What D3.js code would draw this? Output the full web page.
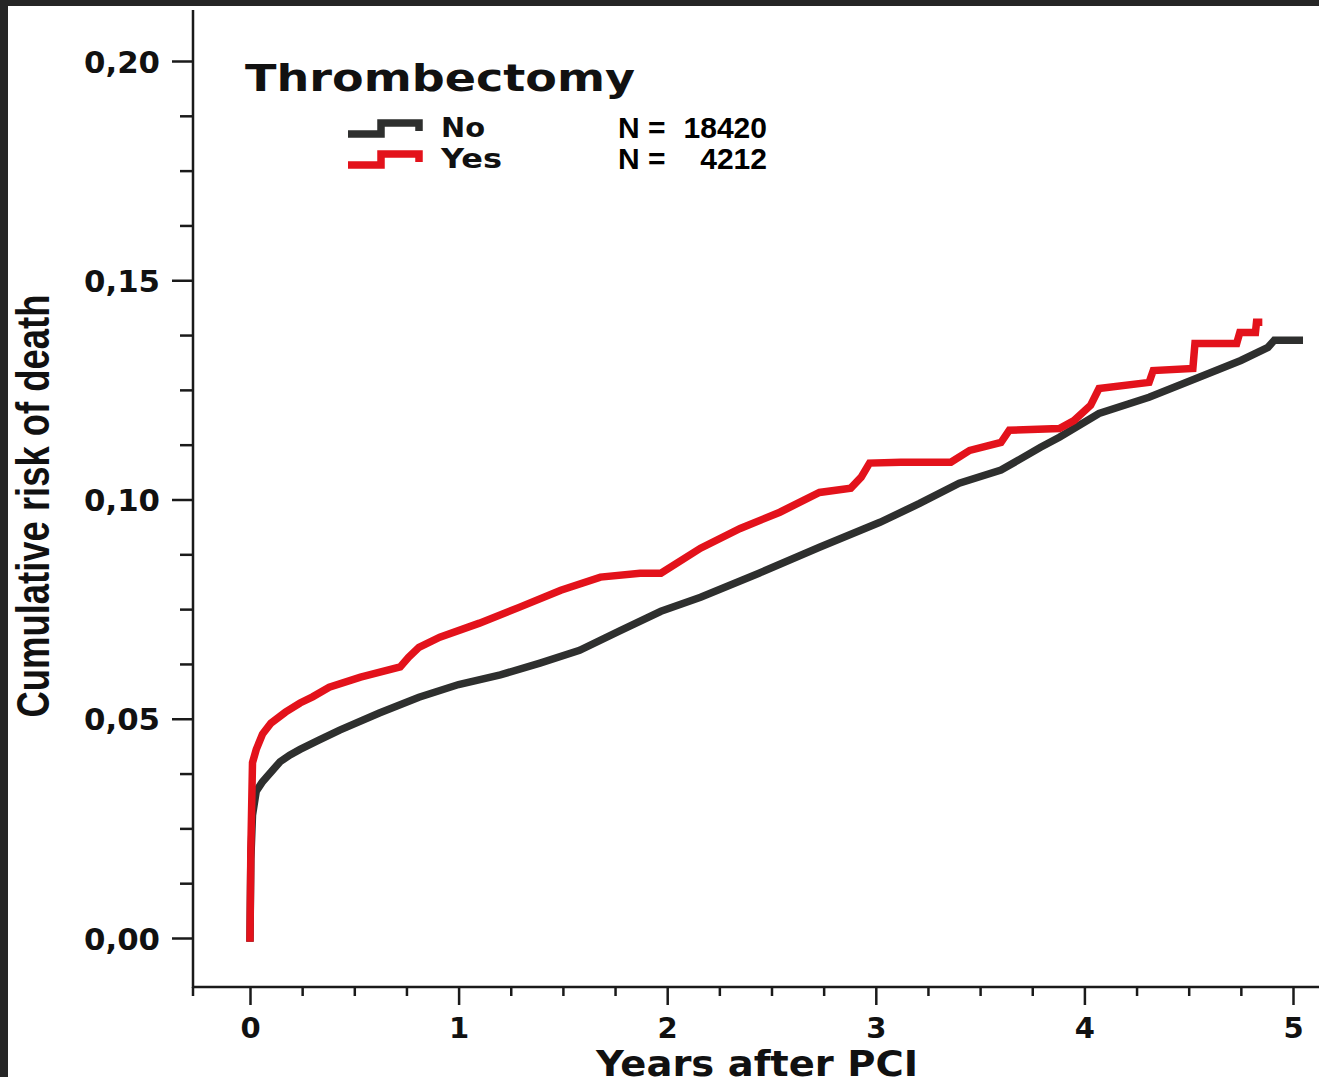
<!DOCTYPE html>
<html>
<head>
<meta charset="utf-8">
<script src="https://cdn.jsdelivr.net/npm/d3@7"></script>
<style>
  html, body { margin: 0; padding: 0; background: #ffffff; }
  svg { display: block; }
</style>
</head>
<body>
<svg id="chart" width="1319" height="1077"></svg>
<script>
// ---- data ----
const yTickLabels = ["0,00", "0,05", "0,10", "0,15", "0,20"];
const yTickValues = [0, 0.05, 0.10, 0.15, 0.20];
const xTickValues = [0, 1, 2, 3, 4, 5];
const xTickLabels = ["0", "1", "2", "3", "4", "5"];

const seriesNames = ["No", "Yes"];
const seriesN = ["18420", "4212"];

const timeNo = [0, 0.004, 0.012, 0.03, 0.058, 0.08, 0.10, 0.144, 0.19, 0.24, 0.33, 0.43, 0.62, 0.81, 1.0, 1.2, 1.39, 1.58, 1.77, 1.97, 2.16, 2.44, 2.73, 3.02, 3.21, 3.40, 3.60, 3.79, 3.88, 4.07, 4.31, 4.55, 4.75, 4.88, 4.91, 5.03];
const riskNo = [0, 0.018, 0.028, 0.0335, 0.0355, 0.0367, 0.0378, 0.0402, 0.0417, 0.0430, 0.0451, 0.0474, 0.0513, 0.0549, 0.0578, 0.0600, 0.0627, 0.0656, 0.0700, 0.0745, 0.0777, 0.0832, 0.0891, 0.0948, 0.0991, 0.1037, 0.1067, 0.1119, 0.1142, 0.1196, 0.1233, 0.1279, 0.1317, 0.1347, 0.1363, 0.1363];

const timeYes = [0, 0.004, 0.012, 0.03, 0.06, 0.10, 0.17, 0.24, 0.30, 0.38, 0.53, 0.72, 0.76, 0.81, 0.91, 1.10, 1.29, 1.49, 1.68, 1.87, 1.97, 2.16, 2.35, 2.54, 2.73, 2.88, 2.93, 2.97, 3.12, 3.36, 3.45, 3.60, 3.64, 3.88, 3.95, 4.03, 4.07, 4.31, 4.33, 4.52, 4.53, 4.73, 4.745, 4.82, 4.825, 4.835];
const riskYes = [0, 0.020, 0.040, 0.0430, 0.0465, 0.0490, 0.0515, 0.0536, 0.0550, 0.0572, 0.0595, 0.0618, 0.0640, 0.0663, 0.0686, 0.0718, 0.0754, 0.0793, 0.0823, 0.0832, 0.0832, 0.0889, 0.0934, 0.0971, 0.1016, 0.1026, 0.1051, 0.1083, 0.1085, 0.1085, 0.1112, 0.1130, 0.1158, 0.1162, 0.1180, 0.1215, 0.1253, 0.1267, 0.1294, 0.1299, 0.1356, 0.1356, 0.1381, 0.1381, 0.1404, 0.1404];

// ---- layout ----
const W = 1319, H = 1077;
const axisX = 193, axisY = 987;
const colNo = "#2e2f2e", colYes = "#e3121b", ink = "#1a1a1a";

const svg = d3.select("#chart");
svg.append("rect").attr("x", 0).attr("y", 0).attr("width", W).attr("height", H).attr("fill", "#262626");
svg.append("rect").attr("x", 8).attr("y", 6).attr("width", W - 8).attr("height", H - 6).attr("fill", "#ffffff");

const x = d3.scaleLinear().domain([0, 5]).range([250, 1293]);
const y = d3.scaleLinear().domain([0, 0.20]).range([938, 61]);

// ---- axes ----
const yMinor = d3.range(0, 0.2001, 0.0125).filter(v => Math.abs(v / 0.05 - Math.round(v / 0.05)) > 1e-6);
const xMinor = d3.range(0, 5.001, 0.25).filter(v => Math.abs(v - Math.round(v)) > 1e-6);

const yAxisMinor = d3.axisLeft(y).tickValues(yMinor).tickSize(13).tickFormat("").tickSizeOuter(0);
const yAxisMajor = d3.axisLeft(y).tickValues(yTickValues).tickSize(21).tickSizeOuter(0)
  .tickFormat((d, i) => yTickLabels[i]).tickPadding(12);

const gyMinor = svg.append("g").attr("transform", `translate(${axisX},0)`).call(yAxisMinor);
const gyMajor = svg.append("g").attr("transform", `translate(${axisX},0)`).call(yAxisMajor);

const xAxisMinor = d3.axisBottom(x).tickValues(xMinor).tickSize(9).tickFormat("").tickSizeOuter(0);
const xAxisMajor = d3.axisBottom(x).tickValues(xTickValues).tickSize(18).tickSizeOuter(0)
  .tickFormat((d, i) => xTickLabels[i]).tickPadding(14);
const gxMinor = svg.append("g").attr("transform", `translate(0,${axisY})`).call(xAxisMinor);
const gxMajor = svg.append("g").attr("transform", `translate(0,${axisY})`).call(xAxisMajor);

[gyMinor, gyMajor, gxMinor, gxMajor].forEach(g => {
  g.select(".domain").remove();
  g.selectAll(".tick line").attr("stroke", ink).attr("stroke-width", 2.5);
});
gyMajor.selectAll(".tick text")
  .attr("fill", "#111").attr("font-family", "DejaVu Sans").attr("font-weight", "bold")
  .attr("font-size", 31).attr("dy", "0.36em")
  .attr("textLength", 76).attr("lengthAdjust", "spacingAndGlyphs");
gxMajor.selectAll(".tick text")
  .attr("fill", "#111").attr("font-family", "DejaVu Sans").attr("font-weight", "bold")
  .attr("font-size", 29).attr("dy", "0.66em");

// axis lines
svg.append("line").attr("x1", axisX).attr("x2", axisX).attr("y1", 10).attr("y2", axisY + 1)
  .attr("stroke", ink).attr("stroke-width", 2.5);
svg.append("line").attr("x1", axisX - 1).attr("x2", W).attr("y1", axisY).attr("y2", axisY)
  .attr("stroke", ink).attr("stroke-width", 2.5);
svg.append("line").attr("x1", axisX).attr("x2", axisX).attr("y1", axisY).attr("y2", axisY + 9)
  .attr("stroke", ink).attr("stroke-width", 2.5);

// axis titles
svg.append("text").attr("x", 757).attr("y", 1076).attr("text-anchor", "middle")
  .attr("font-family", "DejaVu Sans").attr("font-weight", "bold").attr("font-size", 35)
  .attr("textLength", 322).attr("lengthAdjust", "spacingAndGlyphs").attr("fill", "#111")
  .text("Years after PCI");
svg.append("text").attr("transform", "translate(49,506) rotate(-90)").attr("text-anchor", "middle")
  .attr("font-family", "Liberation Sans, Arial, sans-serif").attr("font-weight", "bold").attr("font-size", 46)
  .attr("textLength", 423).attr("lengthAdjust", "spacingAndGlyphs").attr("fill", "#111")
  .text("Cumulative risk of death");

// ---- curves ----
const line = d3.line().x(d => x(d[0])).y(d => y(d[1])).curve(d3.curveLinear);
const dataNo = timeNo.map((t, i) => [t, riskNo[i]]);
const dataYes = timeYes.map((t, i) => [t, riskYes[i]]);

svg.append("path").datum(dataNo).attr("d", line).attr("fill", "none")
  .attr("stroke", colNo).attr("stroke-width", 7.5).attr("stroke-linejoin", "miter").attr("stroke-linecap", "square");
svg.append("path").datum(dataYes).attr("d", line).attr("fill", "none")
  .attr("stroke", colYes).attr("stroke-width", 7.5).attr("stroke-linejoin", "miter").attr("stroke-linecap", "square");

// ---- legend ----
svg.append("text").attr("x", 245).attr("y", 91)
  .attr("font-family", "DejaVu Sans").attr("font-weight", "bold").attr("font-size", 38)
  .attr("textLength", 390).attr("lengthAdjust", "spacingAndGlyphs").attr("fill", "#111")
  .text("Thrombectomy");

const legendColors = [colNo, colYes];
const legendRows = [128, 159];
const labelLen = [44, 61];
seriesNames.forEach((name, i) => {
  const cy = legendRows[i];
  const p = d3.path();
  p.moveTo(348, cy + 6); p.lineTo(381, cy + 6); p.lineTo(381, cy - 5);
  p.lineTo(419, cy - 5); p.lineTo(419, cy + 3);
  svg.append("path").attr("d", p.toString()).attr("fill", "none")
    .attr("stroke", legendColors[i]).attr("stroke-width", 7.5).attr("stroke-linejoin", "miter");
  svg.append("text").attr("x", 441).attr("y", cy + 9)
    .attr("font-family", "DejaVu Sans").attr("font-weight", "bold").attr("font-size", 26)
    .attr("textLength", labelLen[i]).attr("lengthAdjust", "spacingAndGlyphs").attr("fill", "#111")
    .text(name);
  svg.append("text").attr("x", 618).attr("y", cy + 10)
    .attr("font-family", "Liberation Sans, Arial, sans-serif").attr("font-weight", "bold").attr("font-size", 30)
    .attr("fill", "#000").text("N =");
  svg.append("text").attr("x", 767).attr("y", cy + 10).attr("text-anchor", "end")
    .attr("font-family", "Liberation Sans, Arial, sans-serif").attr("font-weight", "bold").attr("font-size", 30)
    .attr("fill", "#000").text(seriesN[i]);
});
</script>
</body>
</html>
